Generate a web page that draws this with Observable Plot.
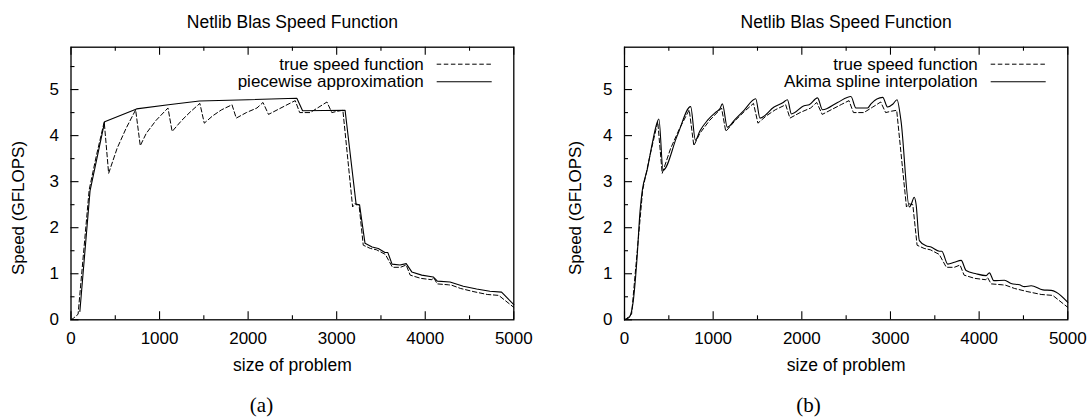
<!DOCTYPE html>
<html><head><meta charset="utf-8">
<script src="https://cdn.jsdelivr.net/npm/d3@7"></script>
<script src="https://cdn.jsdelivr.net/npm/@observablehq/plot@0.6"></script>
<style>
html,body{margin:0;padding:0;background:#fff;}
#wrap{position:relative;width:1090px;height:418px;overflow:hidden;background:#fff;}
#wrap svg{position:absolute;top:0;}
</style></head><body><div id="wrap"></div>
<script>
const chartTitle = "Netlib Blas Speed Function";
const xLabel = "size of problem";
const yLabel = "Speed (GFLOPS)";
const trueName = "true speed function";
const piecewiseName = "piecewise approximation";
const akimaName = "Akima spline interpolation";
const captions = ["(a)", "(b)"];
const xMajorTicks = [0, 1000, 2000, 3000, 4000, 5000];
const xMinorTicks = [500, 1500, 2500, 3500, 4500];
const yMajorTicks = [0, 1, 2, 3, 4, 5];
const yMinorTicks = [0.5, 1.5, 2.5, 3.5, 4.5, 5.5];

// true speed function (dashed)
const trueX = [0,25,80,205,285,375,425,520,620,730,782,850,960,1095,1142,1250,1350,1455,1505,1600,1700,1818,1866,1980,2100,2168,2230,2350,2450,2532,2582,2700,2800,2890,2945,3010,3070,3180,3205,3252,3300,3380,3450,3550,3630,3720,3785,3830,3950,4075,4095,4135,4260,4300,4400,4550,4700,4830,5000];
const trueY = [0,0.03,0.12,2.82,3.55,4.3,3.18,3.72,4.15,4.56,3.78,4.05,4.33,4.6,4.09,4.33,4.52,4.7,4.27,4.43,4.56,4.67,4.38,4.5,4.6,4.72,4.46,4.58,4.68,4.76,4.5,4.5,4.62,4.73,4.5,4.53,4.55,2.45,2.52,2.5,1.62,1.55,1.52,1.42,1.14,1.14,1.19,0.97,0.9,0.87,0.92,0.78,0.76,0.75,0.68,0.61,0.55,0.53,0.27];

// piecewise approximation (solid, left)
const pieceX = [100,215,380,740,1100,1450,2000,2550,2615,3095,3220,3258,3320,3400,3470,3545,3578,3625,3715,3785,3848,3960,4090,4137,4280,4430,4580,4730,4862,5000];
const pieceY = [0.18,2.8,4.3,4.58,4.67,4.75,4.78,4.81,4.54,4.55,2.5,2.5,1.66,1.58,1.55,1.46,1.46,1.21,1.19,1.22,1.04,0.97,0.93,0.84,0.82,0.73,0.67,0.62,0.6,0.33];

// Akima spline interpolation (solid, right)
const akimaX = [0,55,95,140,175,200,255,315,355,388,435,595,746,800,850,935,1030,1075,1104,1160,1250,1348,1480,1528,1687,1790,1838,1883,2026,2083,2177,2234,2403,2554,2610,2742,2780,2912,2968,3025,3074,3118,3213,3232,3268,3288,3326,3401,3458,3552,3578,3646,3721,3797,3853,3966,4079,4116,4165,4285,4361,4455,4512,4587,4719,4813,4870,5000];
const akimaY = [0,0.06,0.35,1.3,2.35,2.8,3.25,3.85,4.2,4.36,3.25,4.0,4.63,3.9,4.1,4.33,4.51,4.58,4.69,4.18,4.36,4.55,4.8,4.38,4.62,4.72,4.78,4.47,4.65,4.67,4.82,4.56,4.72,4.85,4.6,4.6,4.69,4.83,4.62,4.68,4.78,4.33,2.45,2.5,2.66,2.52,1.72,1.61,1.58,1.49,1.49,1.21,1.25,1.29,1.07,1.0,0.96,1.02,0.85,0.86,0.79,0.76,0.72,0.74,0.65,0.64,0.6,0.38];

const SANS = "'Liberation Sans', Arial, Helvetica, sans-serif";
const SERIF = "'Liberation Serif', 'Times New Roman', serif";
const DASH = "4.5,2.6";

function makePanel({left, mL, mR, solidX, solidY, solidName, curve, caption, capX, yLabX}) {
  const W = 545, H = 418, mT = 46.7, mB = 98.7;
  const fw = W - mL - mR, fh = H - mT - mB;
  const trueData = trueX.map((x, i) => ({x, y: trueY[i]}));
  const solidData = solidX.map((x, i) => ({x, y: solidY[i]}));
  const plot = Plot.plot({
    width: W, height: H,
    marginLeft: mL, marginRight: mR, marginTop: mT, marginBottom: mB,
    x: {domain: [0, 5000]},
    y: {domain: [0, 5.92]},
    style: {fontFamily: SANS, fontSize: "17px", background: "#fff", color: "#000", overflow: "visible"},
    marks: [
      Plot.line(trueData, {x: "x", y: "y", stroke: "#000", strokeWidth: 1, strokeDasharray: DASH}),
      Plot.line(solidData, {x: "x", y: "y", stroke: "#000", strokeWidth: 1.1, curve}),
      Plot.frame({stroke: "#000", strokeWidth: 1.3}),
      Plot.ruleX(xMajorTicks, {x: d => d, insetTop: fh - 8, stroke: "#000", strokeWidth: 1.1}),
      Plot.ruleX(xMinorTicks, {x: d => d, insetTop: fh - 4, stroke: "#000", strokeWidth: 1.1}),
      Plot.ruleX(xMajorTicks, {x: d => d, insetBottom: fh - 8, stroke: "#000", strokeWidth: 1.1}),
      Plot.ruleX(xMinorTicks, {x: d => d, insetBottom: fh - 4, stroke: "#000", strokeWidth: 1.1}),
      Plot.ruleY(yMajorTicks, {y: d => d, insetRight: fw - 8, stroke: "#000", strokeWidth: 1.1}),
      Plot.ruleY(yMinorTicks, {y: d => d, insetRight: fw - 4, stroke: "#000", strokeWidth: 1.1}),
      Plot.axisX({ticks: xMajorTicks, tickSize: 0, tickPadding: 12, label: null, tickFormat: d => String(d), fontSize: 17}),
      Plot.axisY({ticks: yMajorTicks, tickSize: 0, tickPadding: 12, label: null, tickFormat: d => String(d), fontSize: 17}),
      Plot.text([chartTitle], {text: d => d, frameAnchor: "top", lineAnchor: "bottom", dy: -19.4, fontSize: 17.5}),
      Plot.text([xLabel], {text: d => d, frameAnchor: "bottom", lineAnchor: "bottom", dy: 50.7, fontSize: 17.5}),
      Plot.text([yLabel], {text: d => d, frameAnchor: "left", textAnchor: "middle", lineAnchor: "middle", rotate: -90, dx: -(mL - yLabX), dy: 24.5, fontSize: 17}),
      Plot.text([trueName], {text: d => d, frameAnchor: "top-right", textAnchor: "end", lineAnchor: "bottom", dx: -90, dy: 22.4, fontSize: 17}),
      Plot.text([solidName], {text: d => d, frameAnchor: "top-right", textAnchor: "end", lineAnchor: "bottom", dx: -90, dy: 40.2, fontSize: 17}),
      Plot.text([caption], {text: d => d, frameAnchor: "bottom-left", textAnchor: "middle", lineAnchor: "bottom", dx: capX - mL, dy: 92.4, fontSize: 21, fontFamily: SERIF})
    ]
  });
  plot.style.left = left + "px";
  // legend line samples
  const svg = d3.select(plot);
  const xr = W - mR;
  const g = svg.append("g").attr("stroke", "#000").attr("stroke-width", 1.1);
  g.append("line").attr("x1", xr - 76.6).attr("x2", xr - 21.6).attr("y1", mT + 17.5).attr("y2", mT + 17.5).attr("stroke-dasharray", DASH).attr("stroke-width", 1);
  g.append("line").attr("x1", xr - 76.6).attr("x2", xr - 21.6).attr("y1", mT + 35).attr("y2", mT + 35);
  return plot;
}

const wrap = document.getElementById("wrap");
wrap.appendChild(makePanel({left: 0, mL: 70.5, mR: 31.7, solidX: pieceX, solidY: pieceY, solidName: piecewiseName, curve: "linear", caption: captions[0], capX: 261, yLabX: 18.3}));
wrap.appendChild(makePanel({left: 545, mL: 79, mR: 22.7, solidX: akimaX, solidY: akimaY, solidName: akimaName, curve: "monotone-x", caption: captions[1], capX: 263, yLabX: 30}));
</script>
</body></html>
